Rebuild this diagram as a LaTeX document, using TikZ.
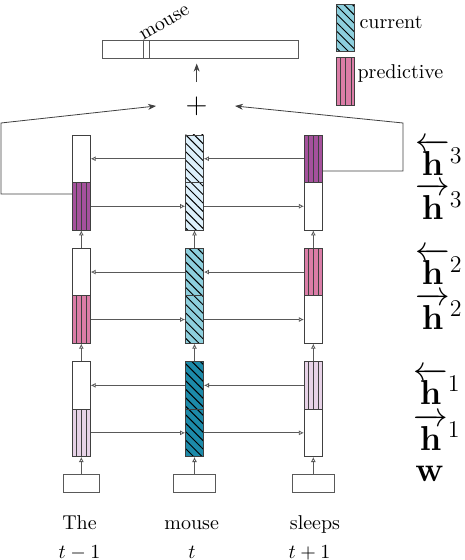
\documentclass[tikz,border=0pt]{standalone}
\usepackage{amsmath}
\usepackage{amssymb}
\usepackage{xcolor}
\usetikzlibrary{arrows.meta,patterns.meta,positioning}

\definecolor{cur1}{HTML}{1C8AA9}
\definecolor{cur2}{HTML}{8DCFDD}
\definecolor{cur3}{HTML}{DDF0FB}
\definecolor{pred1}{HTML}{E7D2E7}
\definecolor{pred2}{HTML}{DB7DA7}
\definecolor{pred3}{HTML}{A5519C}

\begin{document}
\begin{tikzpicture}[x=0.5pt,y=-0.5pt]
            \tikzset{cell/.style = {draw=black!75, minimum width=9pt, minimum height=23.75pt, inner sep=0pt}}
            \tikzset{cur/.style = {cell, preaction={fill=#1}, pattern={Lines[angle=-45,distance=3pt,line width=0.5pt]}}}
            \tikzset{pred/.style = {cell, fill=#1, path picture={\foreach \d in {-2.6pt,0pt,2.6pt} {\draw[line width=0.5pt] ([xshift=\d]path picture bounding box.south) -- ([xshift=\d]path picture bounding box.north);}}}}
            \tikzset{wordbox/.style = {draw=black!65, minimum height=9pt, inner sep=0pt}}
            \tikzset{edge/.style = {draw=black!65, -{Latex[open,length=2.5pt,width=2.5pt]}}}
            \tikzset{skip/.style = {draw=black!75, -{Stealth[length=4pt,width=3pt]}}}
            \tikzset{hlabel/.style = {anchor=base west, inner sep=0pt, font=\LARGE}}

            \useasboundingbox (0,0) rectangle (464,560);

            % cells
            \foreach \l in {1,2,3}
            {
              \pgfmathsetmacro{\yb}{158.75+(3-\l)*113.3}
              \pgfmathsetmacro{\yf}{\yb+47.5}
              \node[cell] (b\l-1) at (81.3,\yb) {};
              \node[pred=pred\l] (f\l-1) at (81.3,\yf) {};
              \node[cur=cur\l] (b\l-2) at (194.5,\yb) {};
              \node[cur=cur\l] (f\l-2) at (194.5,\yf) {};
              \node[pred=pred\l] (b\l-3) at (313.3,\yb) {};
              \node[cell] (f\l-3) at (313.3,\yf) {};
            }

            % words
            \node[wordbox, minimum width=18pt] (w1) at (81.3,483) {};
            \node[wordbox, minimum width=21pt] (w2) at (194.5,483) {};
            \node[wordbox, minimum width=21pt] (w3) at (313.3,483) {};
            \node[anchor=base] (tx1) at (79.5,529.5) {The};
            \node[anchor=base] (tx2) at (191.7,529.5) {mouse};
            \node[anchor=base] (tx3) at (315,529.5) {sleeps};
            \node[anchor=base] (ts1) at (79.5,558) {$t-1$};
            \node[anchor=base] (ts2) at (192,558) {$t$};
            \node[anchor=base] (ts3) at (309.5,558) {$t+1$};

            % edges
            \foreach \c in {1,2,3}
            {
              \draw[edge] (w\c) -- (f1-\c);
              \draw[edge] (b1-\c) -- (f2-\c);
              \draw[edge] (b2-\c) -- (f3-\c);
            }
            \foreach \l in {1,2,3}
            {
              \draw[edge] (f\l-1) -- (f\l-2);
              \draw[edge] (f\l-2) -- (f\l-3);
              \draw[edge] (b\l-3) -- (b\l-2);
              \draw[edge] (b\l-2) -- (b\l-1);
            }

            % output
            \node[inner sep=0pt] (plus) at (196.7,106) {\Large $+$};
            \node[wordbox, minimum width=98pt] (out) at (200.2,49.2) {};
            \node[wordbox, minimum width=3pt] (mark) at (146.7,49.2) {};
            \node[rotate=30, anchor=base west, inner sep=0pt] (mw) at (143,41) {mouse};
            \draw[skip, shorten <=7pt, shorten >=2.5pt] (plus.north) -- (plus.north |- out.south);

            \coordinate (lc1) at (1,194);
            \coordinate (lc2) at (1,123);
            \coordinate (lc3) at (156,106);
            \coordinate (rc1) at (403,171);
            \coordinate (rc2) at (403,123);
            \coordinate (rc3) at (235,106);
            \draw[skip] ([yshift=6.1pt]f3-1.west) -- (lc1) -- (lc2) -- (lc3);
            \draw[skip] ([yshift=-6.1pt]b3-3.east) -- (rc1) -- (rc2) -- (rc3);

            % legend
            \node[cur=cur2] (lg1) at (345.8,28) {};
            \node[pred=pred2] (lg2) at (345.8,81.3) {};
            \node[anchor=base west, inner sep=2pt] (lt1) at ([yshift=-0.5pt]lg1.east) {current};
            \node[anchor=base west, inner sep=1pt] (lt2) at ([yshift=1.2pt]lg2.east) {predictive};

            % layer labels
            \node[hlabel] (hb3) at (415,176) {$\overleftarrow{\mathbf{h}}^3$};
            \node[hlabel] (hf3) at (415,220) {$\overrightarrow{\mathbf{h}}^3$};
            \node[hlabel] (hb2) at (415,285) {$\overleftarrow{\mathbf{h}}^2$};
            \node[hlabel] (hf2) at (415,329) {$\overrightarrow{\mathbf{h}}^2$};
            \node[hlabel] (hb1) at (413,404) {$\overleftarrow{\mathbf{h}}^1$};
            \node[hlabel] (hf1) at (413,450) {$\overrightarrow{\mathbf{h}}^1$};
            \node[hlabel] (hw) at (415,481.7) {$\mathbf{w}$};

\end{tikzpicture}
\end{document}
